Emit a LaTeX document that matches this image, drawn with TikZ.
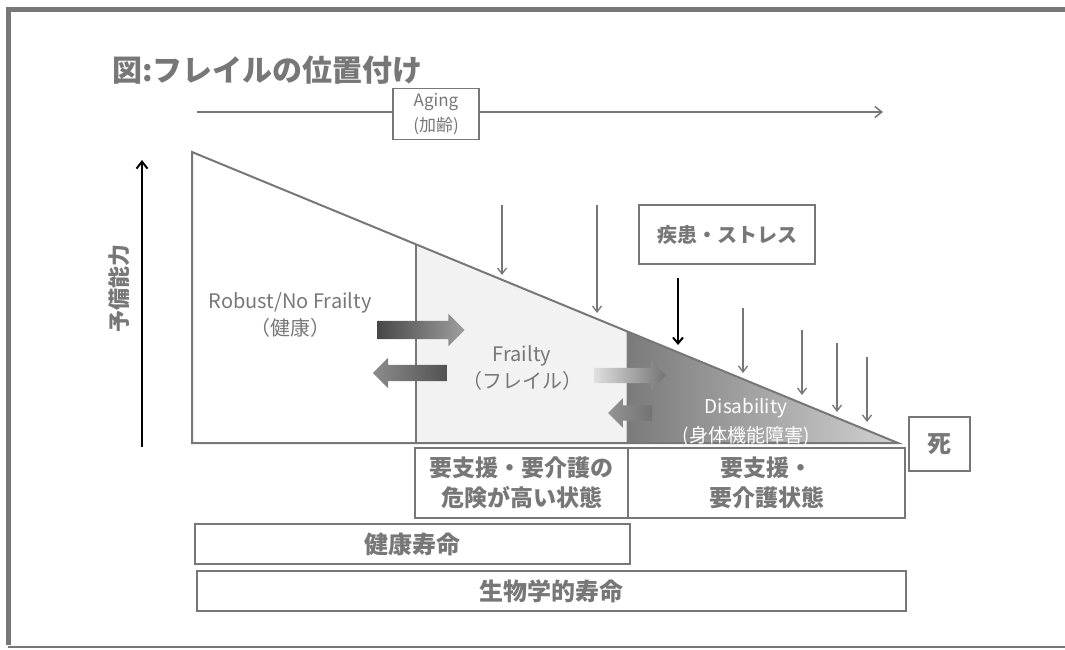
\documentclass[tikz,border=0pt]{standalone}
\usepackage{fontspec}
\setmainfont{Noto Sans CJK JP}
\usetikzlibrary{shapes.arrows,arrows.meta}
\definecolor{tg}{HTML}{777777}
\definecolor{lg}{HTML}{F2F2F2}
\begin{document}
\begin{tikzpicture}[x=1pt,y=-1pt,
  lab/.style={text=tg, font=\fontsize{20}{27}\selectfont, align=center, inner sep=0pt},
  bx/.style={draw=tg, line width=1.6pt, text=tg, font=\bfseries\fontsize{23}{30}\selectfont, align=center, inner sep=0pt},
  downarr/.style={draw=tg, line width=1.3pt, -{Straight Barb[length=6pt,width=9pt]}},
  blockarr/.style={single arrow, draw=none, inner xsep=0pt},
]
\useasboundingbox (0,0) rectangle (1065,649);
% frame
\draw[tg, line width=5pt] (8,645) -- (8,9) -- (1065,9);
\draw[tg, line width=2pt] (8,647) -- (1065,647);

% title
\node[anchor=west, text=tg, font=\bfseries\fontsize{30}{34}\selectfont, inner sep=0pt] (title) at (112,70) {図:フレイルの位置付け};

% aging
\node[draw=tg, line width=1.6pt, minimum width=86pt, minimum height=51pt, lab, font=\fontsize{17}{25}\selectfont] (aging) at (436,114) {Aging\\(加齢)};
\coordinate (agS) at (197,112);
\coordinate (agE) at (883,112);
\draw[tg, line width=1.5pt] (agS) -- (aging.west|-agS);
\draw[tg, line width=1.5pt, -{Straight Barb[length=7pt,width=11pt]}] (aging.east|-agE) -- (agE);

% y axis
\coordinate (yB) at (142,447);
\coordinate (yT) at (142,160);
\draw[black, line width=2pt, -{Straight Barb[length=7pt,width=11pt]}] (yB) -- (yT);
\node[rotate=90, text=tg, font=\bfseries\fontsize{22}{24}\selectfont, inner sep=0pt] (ylab) at (119,288) {予備能力};

% regions
\coordinate (TL) at (192,152);
\coordinate (BR) at (898,443);
\coordinate (BL) at (192,443);
\coordinate (FT) at (416,244.3);
\coordinate (FB) at (416,443);
\coordinate (DT) at (626,330.9);
\coordinate (DB) at (626,443);
\fill[lg] (FT) -- (DT) -- (DB) -- (FB) -- cycle;
\shade[left color=black!52, right color=black!18] (DT) -- (BR) -- (DB) -- cycle;
\draw[white!80!black, line width=0.8pt] (DT) -- (DB);
\draw[tg, line width=2pt] (TL) -- (BR) -- (BL) -- cycle;
\draw[tg, line width=2pt] (FT) -- (FB);

% region labels
\node[lab] (robust) at (290,315) {Robust/No Frailty\\（健康）};
\node[lab] (frailty) at (522,368) {Frailty\\（フレイル）};
\node[lab, text=white, font=\fontsize{19}{29}\selectfont] (disab) at (746,422) {Disability\\(身体機能障害)};

% block arrows
\node[blockarr, minimum height=87pt, inner ysep=9pt, single arrow head extend=7pt, left color=black!72, right color=black!38] (a1) at (416.5,330) {};
\node[blockarr, shape border rotate=180, minimum height=74pt, inner ysep=8pt, single arrow head extend=7pt, left color=black!45, right color=black!68] (a2) at (414,373) {};
\node[blockarr, minimum height=72pt, inner ysep=7.5pt, single arrow head extend=7pt, left color=black!12, right color=black!55] (a3) at (626,375.5) {};
\node[blockarr, shape border rotate=180, minimum height=44pt, inner ysep=7.5pt, single arrow head extend=7pt, left color=black!42, right color=black!55] (a4) at (634,413) {};

% stress box
\node[bx, line width=2.5pt, minimum width=176pt, minimum height=59pt, font=\bfseries\fontsize{20}{26}\selectfont] (stress) at (727,234.5) {疾患・ストレス};

% down arrows
\coordinate (d1s) at (502,205); \coordinate (d1e) at (502,275);
\coordinate (d2s) at (597,205); \coordinate (d2e) at (597,313);
\coordinate (d4s) at (743,308); \coordinate (d4e) at (743,373);
\coordinate (d5s) at (802,330); \coordinate (d5e) at (802,395);
\coordinate (d6s) at (837,343); \coordinate (d6e) at (837,412);
\coordinate (d7s) at (867,357); \coordinate (d7e) at (867,422);
\coordinate (d3s) at (678,278); \coordinate (d3e) at (678,345);
\foreach \i in {1,2,4,5,6,7} \draw[downarr] (d\i s) -- (d\i e);
\draw[black, line width=2pt, -{Straight Barb[length=6pt,width=10pt]}] (d3s) -- (d3e);

% bottom boxes
\node[bx, minimum width=213pt, minimum height=70pt] (risk) at (521.5,483) {要支援・要介護の\\危険が高い状態};
\node[bx, minimum width=277pt, minimum height=70pt] (care) at (766.5,483) {要支援・\\要介護状態};
\node[bx, minimum width=61pt, minimum height=54pt, font=\bfseries\fontsize{24}{30}\selectfont] (death) at (939.5,444) {死};
\node[bx, minimum width=435pt, minimum height=40pt, font=\bfseries\fontsize{24}{30}\selectfont] (hl) at (412.5,544) {健康寿命};
\node[bx, minimum width=709pt, minimum height=40pt, font=\bfseries\fontsize{24}{30}\selectfont] (bl) at (551.5,591) {生物学的寿命};
\end{tikzpicture}
\end{document}
